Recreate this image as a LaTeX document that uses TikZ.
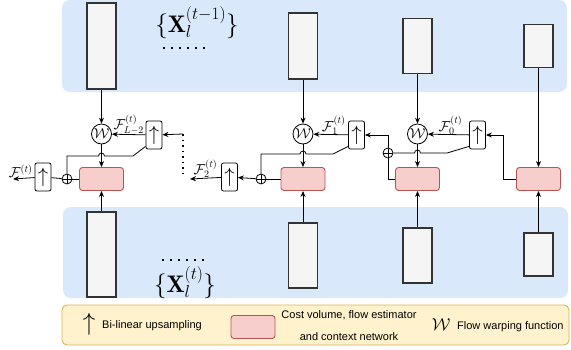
\documentclass[tikz,border=0pt]{standalone}
\usepackage{fontspec}
\setsansfont{Liberation Sans}
\usetikzlibrary{arrows.meta,positioning}

\definecolor{panelblue}{HTML}{DAE8FC}
\definecolor{featfill}{HTML}{F5F5F5}
\definecolor{featline}{HTML}{333333}
\definecolor{estfill}{HTML}{F8CECC}
\definecolor{estline}{HTML}{B85450}
\definecolor{legfill}{HTML}{FFF2CC}
\definecolor{legline}{HTML}{D6B656}

\tikzset{
  feat/.style={draw=featline, fill=featfill, line width=1.2pt, minimum width=29pt, inner sep=0pt},
  est/.style={draw=estline, fill=estfill, line width=0.9pt, rounded corners=3pt,
    minimum width=44pt, minimum height=23pt, inner sep=0pt},
  warp/.style={draw, circle, line width=0.8pt, minimum size=20pt, inner sep=0pt,
    font=\fontsize{14.4}{14.4}\selectfont},
  upbox/.style={draw, rounded corners=2pt, line width=0.8pt, minimum width=16pt,
    minimum height=28pt, inner sep=0pt, font=\fontsize{22}{22}\selectfont},
  plus/.style={draw, circle, line width=0.8pt, minimum size=10pt, inner sep=0pt,
    path picture={\draw[line width=0.8pt]
      (path picture bounding box.north) -- (path picture bounding box.south)
      (path picture bounding box.west) -- (path picture bounding box.east);}},
  wire/.style={line width=0.8pt},
  link/.style={wire, -{Stealth[length=6pt,width=5pt]}},
  flab/.style={font=\fontsize{14.4}{14.4}\selectfont, inner sep=0pt, above},
  dotrow/.style={line width=1.6pt, dash pattern=on 1.6pt off 6.4pt},
  dotcol/.style={line width=1.5pt, dash pattern=on 1.5pt off 4pt},
  xlab/.style={font=\fontsize{24}{28}\selectfont},
  legtxt/.style={font=\sffamily\fontsize{11}{22}\selectfont, inner sep=0pt},
}

\begin{document}
\begin{tikzpicture}[x=1pt,y=-1pt]
\useasboundingbox (0,0) rectangle (571,349);

% pyramid levels
\fill[panelblue, rounded corners=8pt] (62,0) rectangle (567,92);
\fill[panelblue, rounded corners=8pt] (63,207) rectangle (568,298);

% features at t-1 (top) and t (bottom)
\node[feat, minimum height=86pt] (topA) at (101.5,46) {};
\node[feat, minimum height=66pt] (topB) at (303,46) {};
\node[feat, minimum height=55pt] (topC) at (417.5,46) {};
\node[feat, minimum height=43pt] (topD) at (538.5,46) {};
\node[feat, minimum height=85pt] (botA) at (101.5,254.5) {};
\node[feat, minimum height=65pt] (botB) at (303,255.5) {};
\node[feat, minimum height=55pt] (botC) at (417.5,255.5) {};
\node[feat, minimum height=43pt] (botD) at (538.5,254.5) {};

\node[xlab] (xPrev) at (197,23) {$\{\mathbf{X}_l^{(t-1)}\}$};
\node[xlab] (xCur) at (185,283) {$\{\mathbf{X}_l^{(t)}\}$};
\coordinate (prevDotL) at (163,48);
\coordinate (prevDotR) at (206,48);
\coordinate (curDotL) at (162,260);
\coordinate (curDotR) at (205,260);
\draw[dotrow] (prevDotL) -- (prevDotR);
\draw[dotrow] (curDotL) -- (curDotR);

% warping, estimators, upsampling
\node[warp] (wA) at (101.5,134) {$\mathcal{W}$};
\node[warp] (wB) at (303,134) {$\mathcal{W}$};
\node[warp] (wC) at (417.5,134) {$\mathcal{W}$};
\node[est] (estA) at (101.5,179) {};
\node[est] (estB) at (303,179) {};
\node[est] (estC) at (417.5,179) {};
\node[est] (estD) at (538.5,179) {};
\node[upbox] (upA) at (154,135) {$\uparrow$};
\node[upbox] (upB) at (356.5,135) {$\uparrow$};
\node[upbox] (upC) at (477.5,135) {$\uparrow$};
\node[upbox] (upF2) at (229.5,177) {$\uparrow$};
\node[upbox] (upOut) at (43,177) {$\uparrow$};
\node[plus] (plusA) at (67,179) {};
\node[plus] (plusB) at (261,179) {};
\node[plus] (plusC) at (388,153) {};

\coordinate (kinkA) at (133,156);
\coordinate (kinkB) at (333,154);
\coordinate (kinkC) at (447,153);
\coordinate (turnD) at (503,179);
\coordinate (dotTop) at (183,134);
\coordinate (dotBot) at (183,174);
\coordinate (f2End) at (190,179);
\coordinate (outEnd) at (13,179);

% level D (coarsest)
\draw[link] (topD) -- (estD);
\draw[link] (botD) -- (estD);
\draw[link] (estD.west) -- (turnD) |- (upC);

% level C
\draw[link] (topC) -- (wC);
\draw[link] (wC) -- (estC);
\draw[link] (botC) -- (estC);
\draw[link] (upC) -- (wC) node[flab, midway, xshift=2pt] {$\mathcal{F}_0^{(t)}$};
\draw[wire] ([yshift=3pt]upC.south west) -- (kinkC) -- ([xshift=3pt]wC |- kinkC)
  arc[start angle=0, end angle=180, radius=3pt] -- (plusC);
\draw[wire] (estC.west) -| (plusC);
\draw[link] (plusC) |- (upB);

% level B
\draw[link] (topB) -- (wB);
\draw[link] (wB) -- (estB);
\draw[link] (botB) -- (estB);
\draw[link] (upB) -- (wB) node[flab, midway, xshift=3pt] {$\mathcal{F}_1^{(t)}$};
\draw[wire] ([yshift=3pt]upB.south west) -- (kinkB) -- ([xshift=3pt]wB |- kinkB)
  arc[start angle=0, end angle=180, radius=3pt] -- (plusB |- kinkB) -- (plusB);
\draw[wire] (estB) -- (plusB);
\draw[link] (plusB) -- (upF2);
\draw[link] (upF2) -- (f2End) node[flab, midway] {$\mathcal{F}_2^{(t)}$};

% skipped levels
\draw[dotcol] (dotTop) -- (dotBot);
\draw[link] (dotTop) -- (upA);

% level A (finest)
\draw[link] (topA) -- (wA);
\draw[link] (wA) -- (estA);
\draw[link] (botA) -- (estA);
\draw[link] (upA) -- (wA) node[flab, midway] {$\mathcal{F}_{L-2}^{(t)}$};
\draw[wire] ([yshift=3pt]upA.south west) -- (kinkA) -- ([xshift=3pt]wA |- kinkA)
  arc[start angle=0, end angle=180, radius=3pt] -- (plusA |- kinkA) -- (plusA);
\draw[wire] (estA) -- (plusA);
\draw[wire] (plusA) -- (upOut);
\draw[link] (upOut) -- (outEnd) node[flab, midway, xshift=-3pt] {$\mathcal{F}^{(t)}$};

% legend
\draw[legline, fill=legfill, line width=0.9pt, rounded corners=5pt] (62,305) rectangle (569,345);
\node[font=\fontsize{30}{30}\selectfont, inner sep=0pt] (legUp) at (89,324) {$\uparrow$};
\node[legtxt, anchor=west] (legUpTxt) at (102,326) {Bi-linear upsampling};
\node[est] (legEst) at (253,327) {};
\node[legtxt, align=center] (legEstTxt) at (349,326) {Cost volume, flow estimator\\and context network};
\node[font=\fontsize{17}{17}\selectfont, inner sep=0pt] (legW) at (441,325) {$\mathcal{W}$};
\node[legtxt, anchor=west] (legWTxt) at (457,327) {Flow warping function};
\end{tikzpicture}
\end{document}
